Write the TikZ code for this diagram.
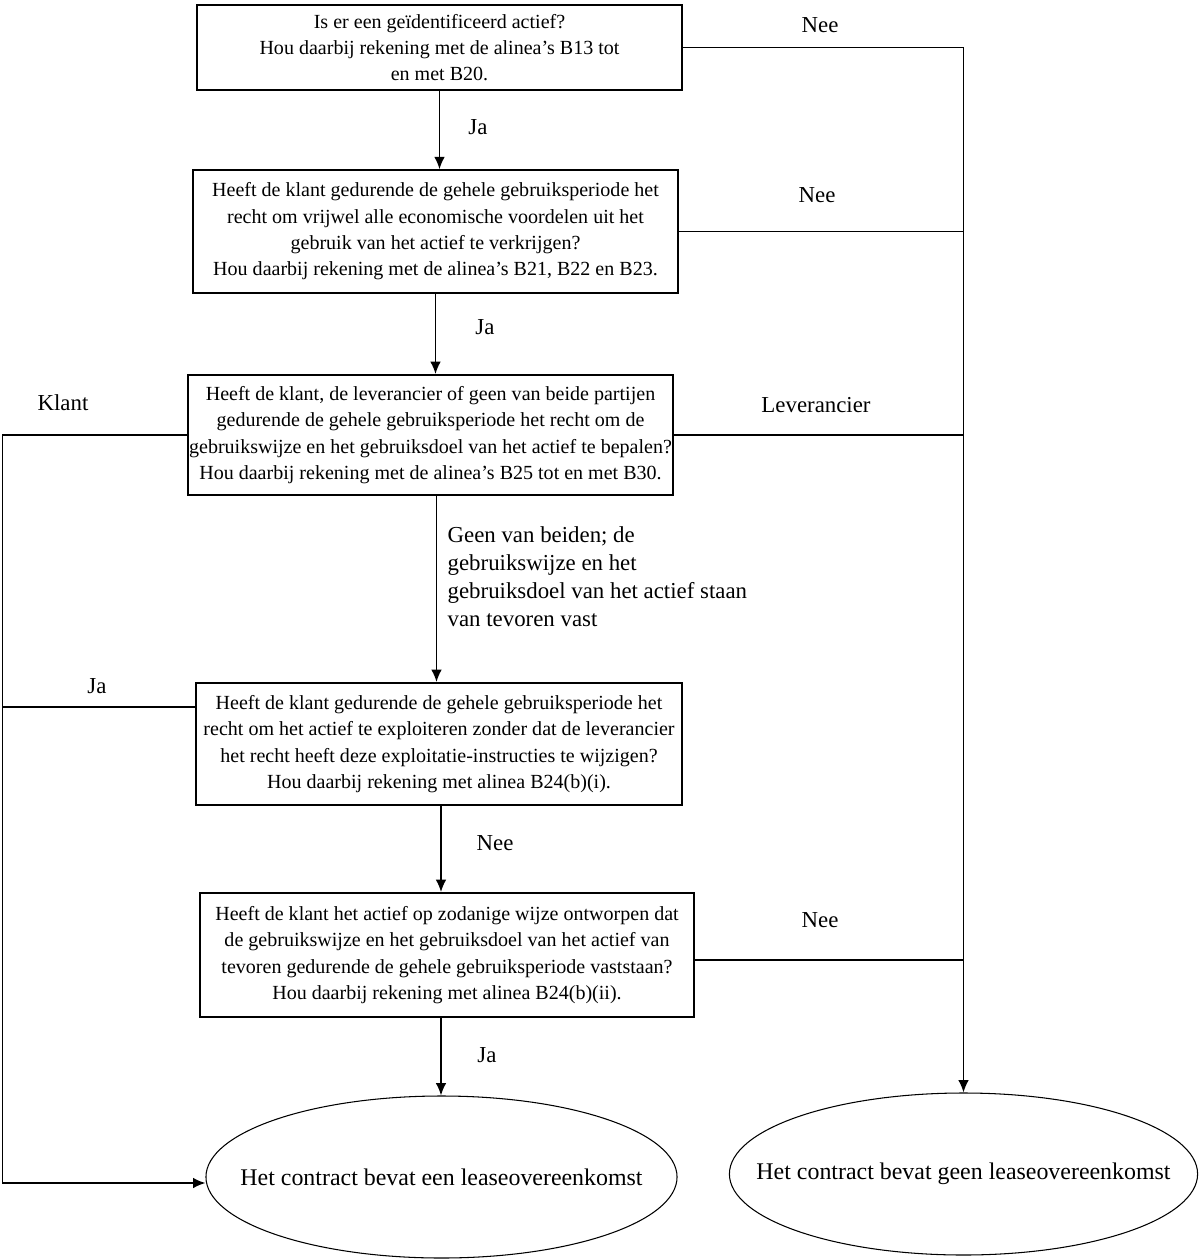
\documentclass[tikz,border=0pt]{standalone}
\usepackage{fontspec}
\setmainfont{Liberation Serif}
\usetikzlibrary{shapes.geometric,arrows.meta}

\begin{document}
\begin{tikzpicture}[
  line width=0.9pt,
  pijl/.style={-{Latex[length=7pt,width=6pt]}},
  vraag/.style={draw,rectangle,align=center,inner sep=0pt,minimum height=2.45cm,
    line width=1.1pt,font=\fontsize{11.4}{15}\selectfont},
  uitkomst/.style={draw,ellipse,line width=0.6pt,inner ysep=0pt,minimum height=3.24cm,
    font=\fontsize{13.6}{15}\selectfont},
  lbl/.style={font=\fontsize{13}{16}\selectfont}]
\useasboundingbox (0,0) rectangle (23.98,-25.18);

% vragen
\node (q1) at (8.79,-0.95) [vraag,minimum width=9.7cm,minimum height=1.7cm]{Is er een geïdentificeerd actief?\\Hou daarbij rekening met de alinea’s B13 tot\\en met B20.};
\node (q2) at (8.71,-4.63) [vraag,minimum width=9.7cm]{Heeft de klant gedurende de gehele gebruiksperiode het\\recht om vrijwel alle economische voordelen uit het\\gebruik van het actief te verkrijgen?\\Hou daarbij rekening met de alinea’s B21, B22 en B23.};
\node (q3) at (8.61,-8.70) [vraag,minimum width=9.7cm,minimum height=2.4cm]{Heeft de klant, de leverancier of geen van beide partijen\\gedurende de gehele gebruiksperiode het recht om de\\gebruikswijze en het gebruiksdoel van het actief te bepalen?\\Hou daarbij rekening met de alinea’s B25 tot en met B30.};
\node (q4) at (8.78,-14.88) [vraag,minimum width=9.72cm,minimum height=2.44cm]{Heeft de klant gedurende de gehele gebruiksperiode het\\recht om het actief te exploiteren zonder dat de leverancier\\het recht heeft deze exploitatie-instructies te wijzigen?\\Hou daarbij rekening met alinea B24(b)(i).};
\node (q5) at (8.94,-19.10) [vraag,minimum width=9.88cm,minimum height=2.48cm]{Heeft de klant het actief op zodanige wijze ontworpen dat\\de gebruikswijze en het gebruiksdoel van het actief van\\tevoren gedurende de gehele gebruiksperiode vaststaan?\\Hou daarbij rekening met alinea B24(b)(ii).};

% uitkomsten
\node (wel) at (8.83,-23.54) [uitkomst,inner xsep=-0.69cm]{Het contract bevat een leaseovereenkomst};
\node (geen) at (19.27,-23.48) [uitkomst,inner xsep=-0.83cm]{Het contract bevat geen leaseovereenkomst};

% pijlen naar beneden
\draw[pijl] (q1.south) -- (q1.south |- q2.north);
\draw[pijl] (q2.south) -- (q2.south |- q3.north);
\draw[pijl] ([xshift=0.12cm]q3.south) -- ([xshift=0.12cm]q3.south |- q4.north);
\draw[pijl] ([xshift=0.04cm]q4.south) -- ([xshift=0.04cm]q4.south |- q5.north);
\draw[pijl] ([xshift=-0.12cm]q5.south) -- ([xshift=-0.12cm]q5.south |- wel.north);

% rechts: geen lease
\draw[pijl] (q1.east) -| (geen.north);
\draw (q2.east) -- (q2.east -| geen.north);
\draw (q3.east) -- (q3.east -| geen.north);
\draw ([yshift=-0.1cm]q5.east) -- ([yshift=-0.1cm]q5.east -| geen.north);

% links: klant
\coordinate (links) at (0.05,0);
\draw[pijl] (q3.west) -- (q3.west -| links) |- ([yshift=-0.12cm]wel.west);
\draw ([yshift=0.74cm]q4.west) -- ([yshift=0.74cm]q4.west -| links);

% labels
\node at (9.56,-2.54) [lbl]{Ja};
\node at (9.70,-6.54) [lbl]{Ja};
\node at (9.90,-16.86) [lbl]{Nee};
\node at (9.74,-21.10) [lbl]{Ja};
\node at (16.40,-0.50) [lbl]{Nee};
\node at (16.34,-3.90) [lbl]{Nee};
\node at (16.32,-8.10) [lbl]{Leverancier};
\node at (16.40,-18.40) [lbl]{Nee};
\node at (1.26,-8.06) [lbl]{Klant};
\node at (1.94,-13.72) [lbl]{Ja};
\node at (8.82,-11.54) [lbl,align=left,right]{Geen van beiden; de\\gebruikswijze en het\\gebruiksdoel van het actief staan\\van tevoren vast};
\end{tikzpicture}
\end{document}
